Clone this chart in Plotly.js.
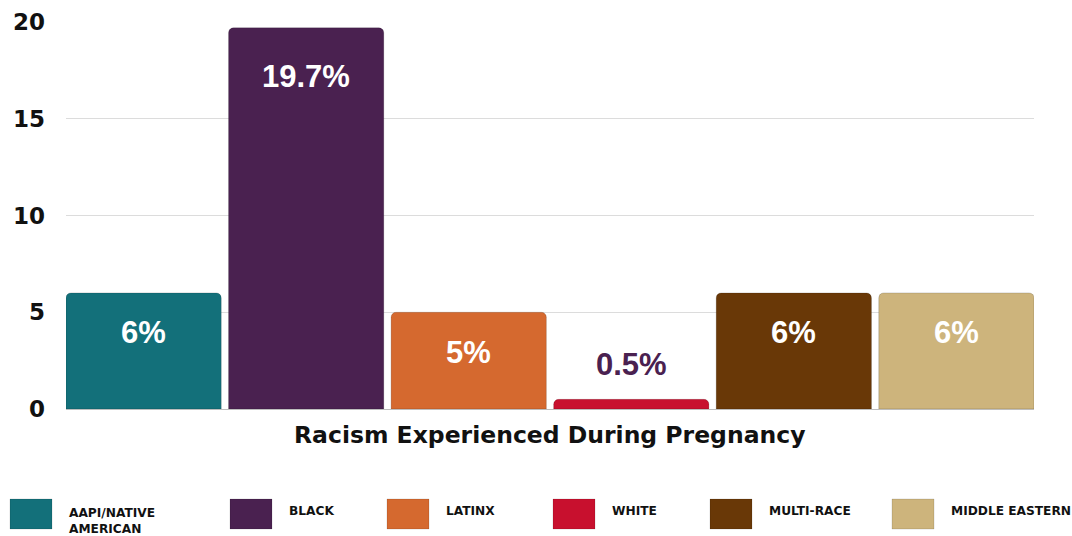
<!DOCTYPE html>
<html>
<head>
<meta charset="utf-8">
<script src="https://cdn.plot.ly/plotly-3.0.1.min.js"></script>
<style>html,body{margin:0;padding:0;background:#fff;}#chart{width:1072px;height:536px;}</style>
</head>
<body>
<div id="chart"></div>
<script>
const categories = ["AAPI/NATIVE AMERICAN", "BLACK", "LATINX", "WHITE", "MULTI-RACE", "MIDDLE EASTERN"];
const legendLabels = ["AAPI/NATIVE<br>AMERICAN", "BLACK", "LATINX", "WHITE", "MULTI-RACE", "MIDDLE EASTERN"];
const values = [6, 19.7, 5, 0.5, 6, 6];
const valueLabels = ["6%", "19.7%", "5%", "0.5%", "6%", "6%"];
const colors = ["#13707A", "#4A2150", "#D5692F", "#C8102E", "#693807", "#CDB47C"];
const yTicks = [0, 5, 10, 15, 20];
const xTitle = "Racism Experienced During Pregnancy";

const W = 1072, H = 536;
const L = 66, R = 1034, T = 22, B = 409;
const gap = 0.045;

const trace = {
  type: "bar",
  x: categories,
  y: values,
  marker: { color: colors, cornerradius: 5, line: { color: "rgba(0,0,0,0.15)", width: 1 } },
  hoverinfo: "skip",
  showlegend: false
};

// bar value labels
const annotations = categories.map((c, i) => {
  const inside = values[i] >= 2;
  return {
    x: c, y: values[i], xref: "x", yref: "y",
    text: valueLabels[i], showarrow: false,
    yanchor: "middle",
    yshift: inside ? (values[i] > 15 ? -49 : -40) : 35,
    font: { family: "Liberation Sans, Arial, sans-serif", size: 31, color: inside ? "#ffffff" : "#4A2150", weight: 700 }
  };
});

const px2x = p => (p - L) / (R - L);
const py2y = p => 1 - (p - T) / (B - T);

// x title
annotations.push({
  x: 0.5, xref: "paper", y: py2y(435), yref: "paper", yanchor: "middle", xanchor: "center",
  text: "<b>" + xTitle + "</b>", showarrow: false,
  font: { family: "DejaVu Sans, sans-serif", size: 23.5, color: "#111" }
});

// legend as shapes + text
const legX = [10, 230, 387, 553, 710, 892];
const shapes = [];
categories.forEach((c, i) => {
  shapes.push({
    type: "rect", xref: "paper", yref: "paper",
    x0: px2x(legX[i]), x1: px2x(legX[i] + 42),
    y0: py2y(499), y1: py2y(529),
    fillcolor: colors[i], line: { color: "rgba(0,0,0,0.12)", width: 1 }
  });
  const twoLine = legendLabels[i].indexOf("<br>") >= 0;
  annotations.push({
    x: px2x(legX[i] + 57), y: py2y(twoLine ? 521 : 511),
    xref: "paper", yref: "paper", xanchor: "left", yanchor: "middle", align: "left",
    text: "<b>" + legendLabels[i] + "</b>", showarrow: false,
    font: { family: "DejaVu Sans, sans-serif", size: 12.2, color: "#111", lineposition: "none" }
  });
});

const layout = {
  width: W, height: H,
  margin: { l: L, r: W - R, t: T, b: H - B, pad: 0 },
  paper_bgcolor: "#fff", plot_bgcolor: "#fff",
  bargap: gap,
  showlegend: false,
  xaxis: {
    type: "category",
    range: [-0.5 + gap / 2, categories.length - 0.5 - gap / 2],
    showticklabels: false, showgrid: false, zeroline: false,
    showline: true, linecolor: "#bdbdbd", linewidth: 1, ticks: ""
  },
  yaxis: {
    range: [0, 20], tickvals: yTicks,
    showgrid: true, gridcolor: "#dcdcdc", gridwidth: 1,
    zeroline: false, showline: false, ticks: "",
    ticklabelstandoff: 20,
    tickfont: { family: "DejaVu Sans, sans-serif", size: 23, color: "#111", weight: 700 }
  },
  annotations: annotations,
  shapes: shapes
};

Plotly.newPlot("chart", [trace], layout, { displayModeBar: false, staticPlot: true });
</script>
</body>
</html>
